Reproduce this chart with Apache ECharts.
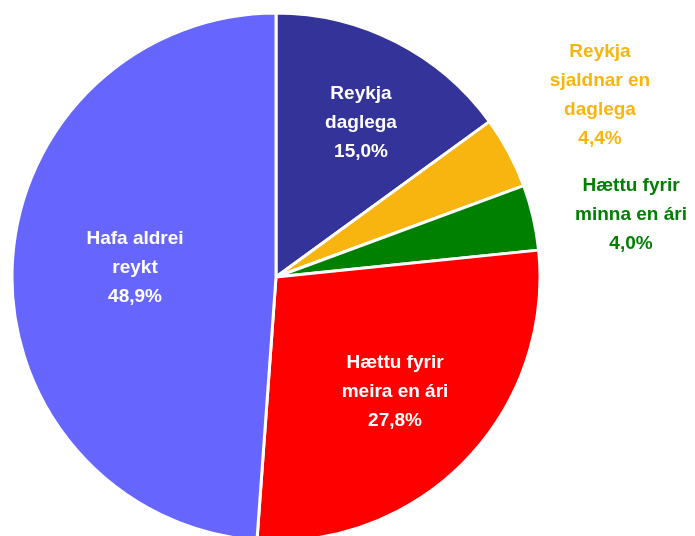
<!DOCTYPE html>
<html><head><meta charset="utf-8">
<script src="https://cdn.jsdelivr.net/npm/echarts@6/dist/echarts.min.js"></script>
<style>html,body{margin:0;padding:0;background:#fff}#c{width:695px;height:536px}</style>
</head><body><div id="c"></div>
<script>
const categories = ['Reykja\ndaglega', 'Reykja\nsjaldnar en\ndaglega', 'Hættu fyrir\nminna en ári', 'Hættu fyrir\nmeira en ári', 'Hafa aldrei\nreykt'];
const values = [15.0, 4.4, 4.0, 27.8, 48.9];
const colors = ['#333399', '#F8B50F', '#008000', '#FF0000', '#6666FF'];
const labelColors = ['#FFFFFF', '#F8B50F', '#008000', '#FFFFFF', '#FFFFFF'];
const labelPos = [[361, 123], [600, 95], [631, 215], [395, 392], [135, 268]];

const chart = echarts.init(document.getElementById('c'), null, {renderer: 'canvas'});
chart.setOption({
  animation: false,
  series: [{
    type: 'pie',
    center: [276, 277],
    radius: 264,
    startAngle: 90,
    clockwise: true,
    data: categories.map((n, i) => ({
      name: n, value: values[i],
      itemStyle: {color: colors[i]},
      label: {color: labelColors[i]}
    })),
    itemStyle: {borderColor: '#fff', borderWidth: 3},
    label: {
      show: true,
      position: 'inside',
      formatter: p => p.name + '\n' + p.value.toFixed(1).replace('.', ',') + '%',
      fontFamily: '"Liberation Sans", Arial, sans-serif',
      fontWeight: 'bold',
      fontSize: 19,
      lineHeight: 29,
      align: 'center'
    },
    labelLine: {show: false},
    labelLayout: p => ({x: labelPos[p.dataIndex][0], y: labelPos[p.dataIndex][1], align: 'center', verticalAlign: 'middle'})
  }]
});
</script></body></html>
